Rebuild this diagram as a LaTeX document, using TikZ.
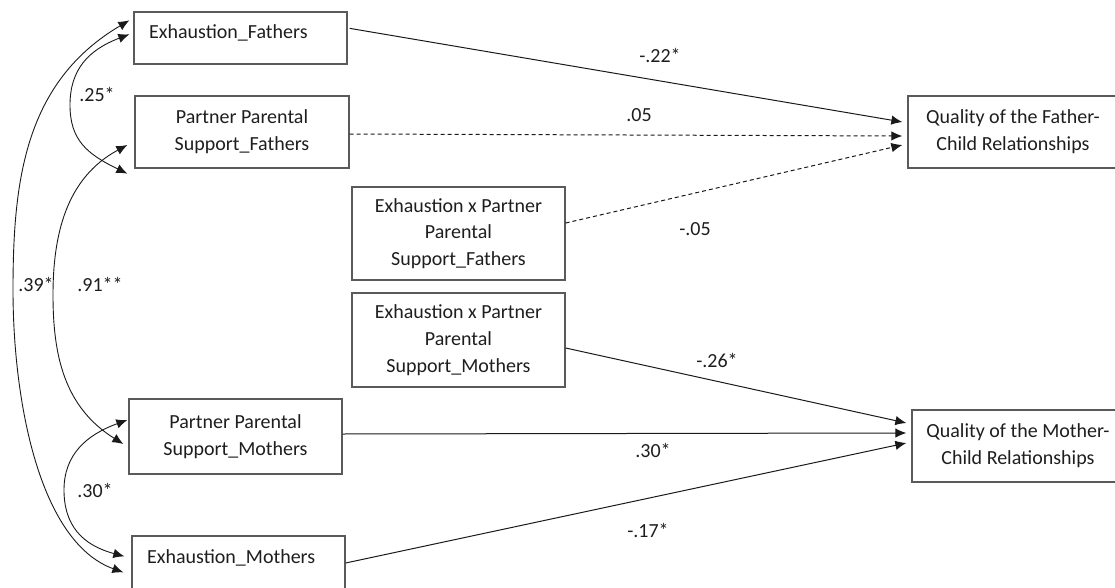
\documentclass[tikz,border=0pt]{standalone}
\usepackage{fontspec}
\setmainfont{Carlito}
\usetikzlibrary{arrows.meta,calc}
\definecolor{boxgray}{HTML}{5A5A5A}
\definecolor{txt}{HTML}{1E1E1E}
\definecolor{ln}{HTML}{1A1A1A}
\begin{document}
\begin{tikzpicture}[x=1pt,y=-1pt,
 font=\fontsize{20}{26.7}\selectfont, text=txt,
 box/.style={draw=boxgray,line width=1.3pt,rectangle,inner sep=0pt,align=center},
 arr/.style={draw=ln,line width=1pt,-{Latex[length=11pt,width=9.5pt]}},
 darr/.style={arr,dash pattern=on 4pt off 3pt},
 carr/.style={draw=ln,line width=0.9pt,{Latex[length=11pt,width=9.5pt]}-{Latex[length=11pt,width=9.5pt]}},
 lbl/.style={inner sep=0pt,anchor=base}]
\useasboundingbox (0,0) rectangle (1115,588);

% boxes
\node[box,minimum width=213pt,minimum height=52pt] (exf) at (240.5,38) {};
\node[lbl,anchor=base west] (exft) at (149,39) {Exhaustion\_Fathers};
\node[box,minimum width=214pt,minimum height=72pt] (ppsf) at (242,132) {Partner Parental\\Support\_Fathers};
\node[box,minimum width=213pt,minimum height=93pt] (xf) at (458.5,233.5) {Exhaustion x Partner\\Parental\\Support\_Fathers};
\node[box,minimum width=213pt,minimum height=94pt] (xm) at (458.5,340) {Exhaustion x Partner\\Parental\\Support\_Mothers};
\node[box,minimum width=213pt,minimum height=75pt] (ppsm) at (235.5,436.5) {Partner Parental\\Support\_Mothers};
\node[box,minimum width=213pt,minimum height=56pt] (exm) at (238.5,564) {};
\node[lbl,anchor=base west] (exmt) at (147,563) {Exhaustion\_Mothers};
\node[box,minimum width=210pt,minimum height=72pt] (qf) at (1013,132) {Quality of the Father-\\Child Relationships};
\node[box,minimum width=212pt,minimum height=72pt] (qm) at (1018,446) {Quality of the Mother-\\Child Relationships};

% paths to outcomes
\draw[arr] ([shift={(2,17)}]exf.north east) -- ([shift={(-5,-10)}]qf.west);
\draw[darr] ([shift={(0,2)}]ppsf.east) -- ([shift={(-5,4)}]qf.west);
\draw[darr] ([shift={(0,-10.5)}]xf.east) -- ([shift={(-5,13)}]qf.west);
\draw[arr] ([shift={(0,8)}]xm.east) -- ([shift={(-5,-23)}]qm.west);
\draw[arr] ([shift={(0,-2.5)}]ppsm.east) -- ([shift={(-5,-13)}]qm.west);
\draw[arr] ([shift={(0,-1)}]exm.east) -- ([shift={(-5,-3)}]qm.west);

% path labels
\node[lbl] (l1) at (660,63) {-.22*};
\node[lbl] (l2) at (639,122) {.05};
\node[lbl] (l3) at (695,235) {-.05};
\node[lbl] (l4) at (717,367) {-.26*};
\node[lbl] (l5) at (653,457) {.30*};
\node[lbl] (l6) at (648,537) {-.17*};

% covariances
\coordinate (m39) at (13,290);
\coordinate (m91) at (53,295);
\coordinate (m25) at (70,105);
\coordinate (m30) at (64,490);
\draw[carr] ([shift={(-4,9)}]exf.north west) .. controls (25,82) and (13,180) .. (m39)
  .. controls (13,400) and (39,542) .. ([shift={(-8,37)}]exm.north west);
\draw[carr] ([shift={(-7,13)}]ppsf.west) .. controls (66,178) and (53,235) .. (m91)
  .. controls (53,355) and (64,407) .. ([shift={(-5,7.5)}]ppsm.west);
\draw[carr] ([shift={(-4,23)}]exf.north west) .. controls (88,50) and (70,70) .. (m25)
  .. controls (70,140) and (87,154) .. ([shift={(-7,5)}]ppsf.south west);
\draw[carr] ([shift={(-1,-16.5)}]ppsm.west) .. controls (86,435) and (64,455) .. (m30)
  .. controls (64,525) and (82,545) .. ([shift={(-7,21)}]exm.north west);

\node[lbl] (c25) at (97,102) {.25*};
\node[lbl] (c39) at (36,291) {.39*};
\node[lbl] (c91) at (100,291) {.91**};
\node[lbl] (c30) at (95,497) {.30*};
\end{tikzpicture}
\end{document}
